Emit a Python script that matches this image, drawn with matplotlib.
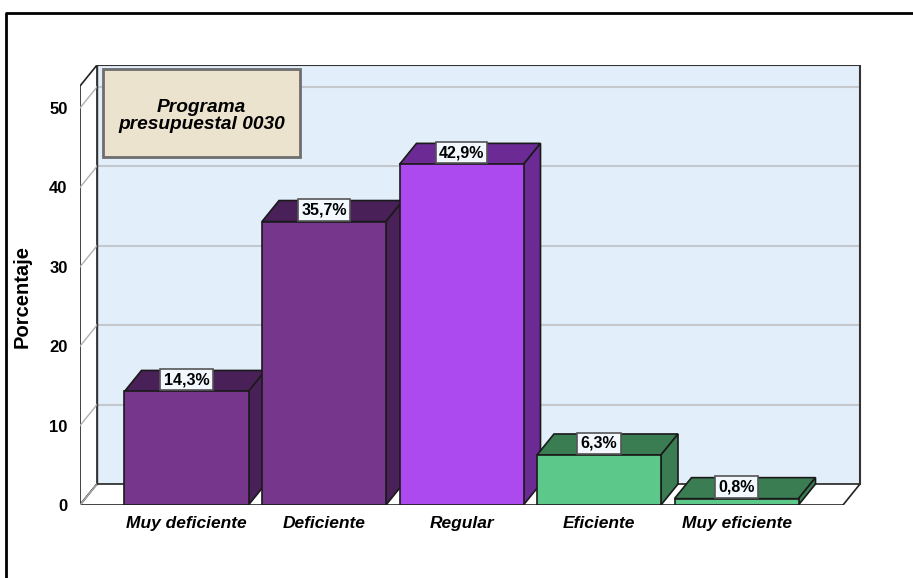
import matplotlib.pyplot as plt
from matplotlib.patches import Polygon, Rectangle
import numpy as np

# data
categorias = ['Muy deficiente', 'Deficiente', 'Regular', 'Eficiente', 'Muy eficiente']
porcentajes = [14.3, 35.7, 42.9, 6.3, 0.8]
etiquetas = ['14,3%', '35,7%', '42,9%', '6,3%', '0,8%']
yticks = [0, 10, 20, 30, 40, 50]
titulo = 'Programa\npresupuestal 0030'

frente = ['#76368c', '#76368c', '#ac4af0', '#5cc98a', '#5cc98a']
oscuro = ['#4a2058', '#4a2058', '#6b2a94', '#3a7d52', '#3a7d52']

fuente = ['Liberation Sans', 'DejaVu Sans']

W, H = 913, 578
fig = plt.figure(figsize=(W/100, H/100), dpi=100)
fig.patch.set_facecolor('white')

# axes in pixel layout: front plane left at x=80, zero at y=505
px_left, px_right, px_bottom, px_top = 80, 862, 505, 65
ax = fig.add_axes([px_left/W, (H-px_bottom)/H, (px_right-px_left)/W, (px_bottom-px_top)/H])
px_cat = 137.5
px_unit = 7.94
x0 = 2 - (461.5-80)/px_cat
x1 = 2 + (843-461.5)/px_cat
ax.set_xlim(x0, x0 + (px_right-px_left)/px_cat)
ax.set_ylim(0, (px_bottom-px_top)/px_unit)
for s in ax.spines.values():
    s.set_visible(False)
ax.patch.set_visible(False)

dx = 17/px_cat
dy = 21/px_unit
top = (px_bottom-px_top)/px_unit - dy

# back wall
ax.add_patch(Polygon([(x0+dx, dy), (x1+dx, dy), (x1+dx, top+dy), (x0+dx, top+dy)],
                     closed=True, facecolor='#e2eefa', edgecolor='none', zorder=1))
# left wall
ax.add_patch(Polygon([(x0, 0), (x0+dx, dy), (x0+dx, top+dy), (x0, top)],
                     closed=True, facecolor='white', edgecolor='#222222', lw=1.2, zorder=1))
# floor
ax.add_patch(Polygon([(x0, 0), (x1, 0), (x1+dx, dy), (x0+dx, dy)],
                     closed=True, facecolor='white', edgecolor='#222222', lw=1.2, zorder=1))
# gridlines
for t in yticks[1:]:
    ax.plot([x0+dx, x1+dx], [t+dy, t+dy], color='#c4c8cc', lw=1.5, zorder=1.5)
for t in yticks:
    ax.plot([x0, x0+dx], [t, t+dy], color='#b0b0b0', lw=1.0, zorder=1.5)
# back wall outline
ax.plot([x0+dx, x1+dx, x1+dx], [top+dy, top+dy, dy], color='#333333', lw=1.5, zorder=1.6)
ax.plot([x0+dx, x0+dx], [dy, top+dy], color='#333333', lw=1.0, zorder=1.6)

# bars
xs = np.arange(len(categorias))
w = 124/px_cat
bars = ax.bar(xs, porcentajes, width=w, color=frente, edgecolor='#1a1a1a', lw=1.2, zorder=3)
for i, (b, v) in enumerate(zip(bars, porcentajes)):
    l = b.get_x()
    r = l + b.get_width()
    ax.add_patch(Polygon([(l, v), (r, v), (r+dx, v+dy), (l+dx, v+dy)], closed=True,
                         facecolor=oscuro[i], edgecolor='#1a1a1a', lw=1.2, zorder=2.5))
    ax.add_patch(Polygon([(r, 0), (r+dx, dy), (r+dx, v+dy), (r, v)], closed=True,
                         facecolor=oscuro[i], edgecolor='#1a1a1a', lw=1.2, zorder=2.5))
    ax.annotate(etiquetas[i], (xs[i], v), xytext=(0, 3), textcoords='offset points',
                ha='center', va='bottom', fontsize=11.5, fontweight='bold',
                family=fuente, zorder=5,
                bbox=dict(boxstyle='square,pad=0.2', fc='#f2f8fd', ec='#555555', lw=1.2))

ax.set_yticks(yticks)
ax.set_yticklabels([str(t) for t in yticks], fontsize=12, fontweight='bold', family=fuente)
ax.set_xticks(xs)
ax.set_xticklabels(categorias, fontsize=12.5, fontweight='bold', style='italic', family=fuente)
ax.tick_params(axis='y', length=0, pad=9)
ax.tick_params(axis='x', length=0, pad=8)

fig.text(22/W, 1-296/H, 'Porcentaje', rotation=90, ha='center', va='center',
         fontsize=14.5, fontweight='bold', family=fuente)

# title box
fig.patches.append(Rectangle((103/W, 1-157/H), 197/W, 88/H, transform=fig.transFigure,
                             facecolor='#ebe3ce', edgecolor='#6e6e6e', lw=2, zorder=4))
fig.text(201.5/W, 1-116/H, titulo, ha='center', va='center', fontsize=13.8,
         fontweight='bold', style='italic', family=fuente,
         linespacing=1.0, zorder=5)

# outer frame (top and left)
fig.add_artist(plt.Line2D([6/W, 6/W, 1], [0, 1-13/H, 1-13/H], transform=fig.transFigure,
                          color='black', lw=2))

fig.savefig('out.png', dpi=100)
